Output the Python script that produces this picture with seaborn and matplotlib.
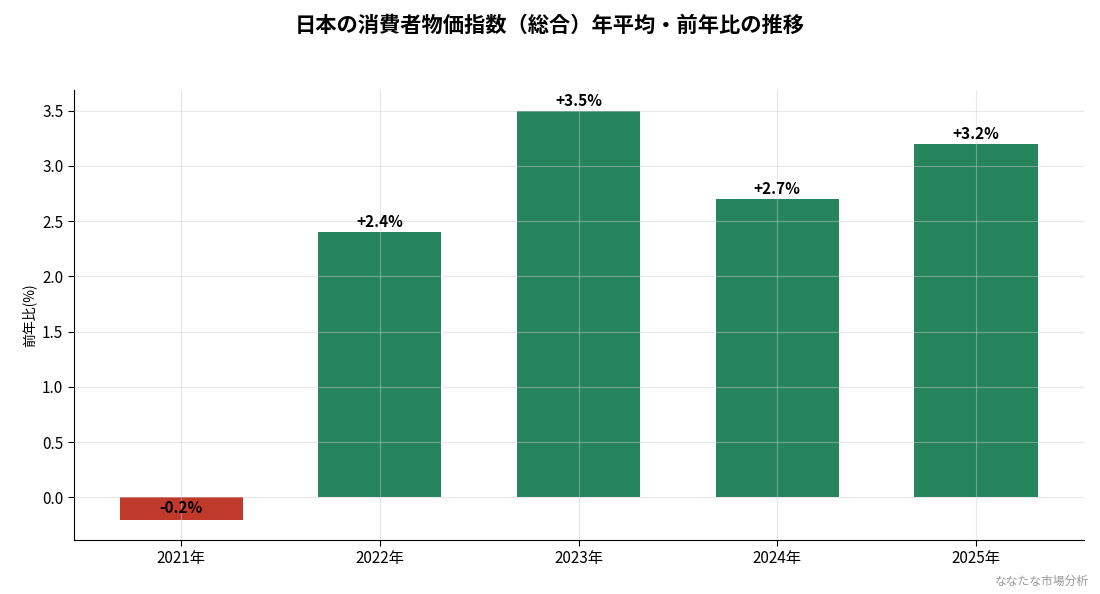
import numpy as np
import pandas as pd
import seaborn as sns
import matplotlib.pyplot as plt

years = ['2021年', '2022年', '2023年', '2024年', '2025年']
yoy = [-0.2, 2.4, 3.5, 2.7, 3.2]
labels = ['-0.2%', '+2.4%', '+3.5%', '+2.7%', '+3.2%']

sns.set_style('white')
plt.rcParams['font.family'] = ['Noto Sans CJK JP', 'DejaVu Sans']
plt.rcParams['text.color'] = 'black'
plt.rcParams['axes.labelcolor'] = 'black'
plt.rcParams['xtick.color'] = 'black'
plt.rcParams['ytick.color'] = 'black'
plt.rcParams['axes.edgecolor'] = 'black'

data = pd.DataFrame({'year': years, 'yoy': yoy})
colors = ['#C0392B' if v < 0 else '#27855E' for v in yoy]

fig = plt.figure(figsize=(11, 5.94), dpi=100)
ax = fig.add_axes([0.067, 0.091, 0.918, 0.757])

sns.barplot(data=data, x='year', y='yoy', hue='year', palette=colors,
            legend=False, width=0.62, saturation=1, edgecolor='none',
            linewidth=0, ax=ax)
ax.margins(x=0.05, y=0.05)
ax.autoscale_view()

# labels
for i, (v, t) in enumerate(zip(yoy, labels)):
    if v < 0:
        ax.text(i, v / 2, t, ha='center', va='center', fontsize=11, fontweight='bold')
    else:
        ax.text(i, v + 0.02, t, ha='center', va='bottom', fontsize=11, fontweight='bold')

ax.grid(True, color='#cccccc', alpha=0.45, linewidth=0.8)
ax.set_axisbelow(False)
sns.despine(ax=ax)
ax.set_xlabel('')
ax.set_ylabel('前年比(%)', fontsize=10)
ax.tick_params(axis='both', labelsize=11, length=4, left=True, bottom=True)
ax.set_yticks(np.arange(0, 3.51, 0.5))

fig.suptitle('日本の消費者物価指数（総合）年平均・前年比の推移', fontsize=15.3,
             fontweight='bold', y=0.975)
fig.text(0.99, 0.01, 'ななたな市場分析', ha='right', va='bottom', fontsize=8.5, color='#999999')

plt.savefig('out.png', dpi=100)
